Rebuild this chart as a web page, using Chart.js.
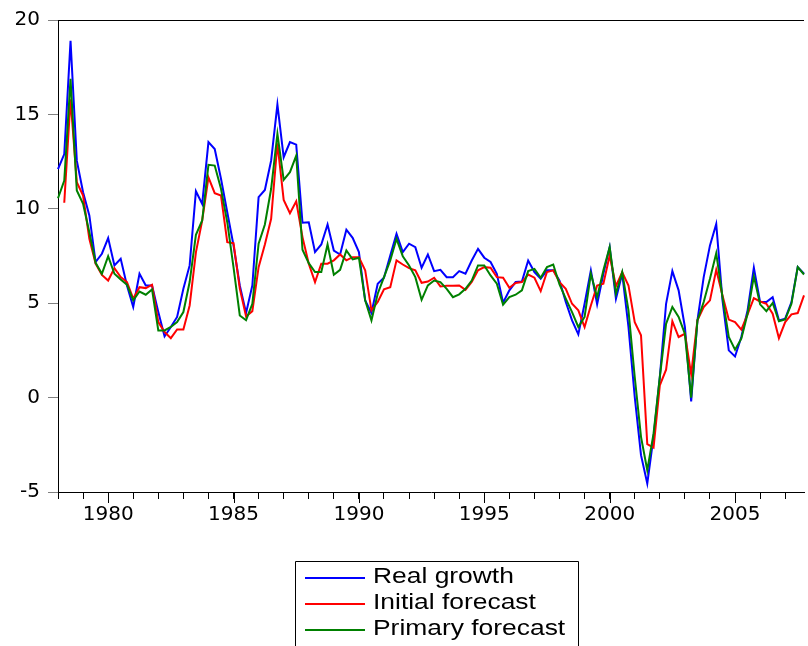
<!DOCTYPE html>
<html>
<head>
<meta charset="utf-8">
<script src="https://cdn.jsdelivr.net/npm/chart.js@4/dist/chart.umd.min.js"></script>
<style>
  body { margin: 0; background: #fff; }
  #wrap { width: 808px; height: 646px; }
</style>
</head>
<body>
<div id="wrap"><canvas id="growthChart"></canvas></div>
<script>
// quarters from 1978Q1
const quarters = [];
for (let y = 1978; y <= 2007; y++) {
    for (let q = 1; q <= 4; q++) quarters.push(y + 'Q' + q);
}

const realGrowth = [
    12.1, 12.9, 18.9, 12.55, 10.88, 9.65, 7.18, 7.62, 8.45, 7.0,
    7.35, 5.94, 4.8, 6.56, 5.94, 5.94, 4.53, 3.24, 3.74, 4.27,
    5.77, 7.0, 10.93, 10.26, 13.53, 13.17, 11.59, 9.82, 8.06, 5.94,
    4.48, 5.94, 10.62, 11.0, 12.56, 15.52, 12.73, 13.53, 13.4, 9.26,
    9.29, 7.71, 8.11, 9.17, 7.79, 7.58, 8.89, 8.46, 7.71, 5.15,
    4.48, 6.03, 6.35, 7.53, 8.67, 7.71, 8.15, 7.97, 6.88, 7.58,
    6.7, 6.77, 6.38, 6.38, 6.7, 6.56, 7.26, 7.88, 7.41, 7.18,
    6.56, 5.02, 5.68, 6.12, 6.15, 7.26, 6.65, 6.3, 6.74, 6.74,
    6.2, 5.06, 4.09, 3.35, 4.97, 6.74, 4.94, 6.56, 7.97, 5.24,
    6.56, 3.74, 0.03, -3.05, -4.55, -2.08, 1.09, 4.97, 6.7, 5.68,
    3.74, -0.2, 4.09, 6.38, 8.06, 9.2, 5.15, 2.5, 2.18, 3.21,
    4.62, 6.88, 5.06, 5.06, 5.32, 4.09, 4.18, 5.06, 6.91, 6.56
];

const initialForecast = [
    null, 10.32, 15.8, 11.41, 10.7, 8.41, 7.09, 6.5, 6.2, 6.86,
    6.38, 6.12, 5.24, 5.85, 5.8, 5.98, 4.0, 3.47, 3.15, 3.61,
    3.61, 4.88, 7.69, 9.38, 11.67, 10.83, 10.7, 8.23, 8.18, 5.77,
    4.3, 4.58, 6.91, 8.11, 9.47, 13.47, 10.47, 9.77, 10.4, 8.5,
    7.09, 6.12, 7.09, 7.09, 7.27, 7.58, 7.27, 7.44, 7.44, 6.74,
    4.62, 5.06, 5.73, 5.85, 7.27, 7.05, 6.86, 6.74, 6.08, 6.15,
    6.35, 5.89, 5.92, 5.92, 5.94, 5.71, 6.12, 6.74, 6.91, 6.88,
    6.38, 6.35, 5.82, 6.07, 6.12, 6.52, 6.35, 5.64, 6.65, 6.74,
    6.12, 5.76, 4.97, 4.62, 3.74, 4.88, 5.94, 6.03, 7.53, 5.9,
    6.65, 5.94, 4.0, 3.3, -2.47, -2.65, 0.65, 1.48, 4.05, 3.21,
    3.38, 1.23, 4.09, 4.8, 5.15, 6.77, 5.41, 4.13, 4.0, 3.6,
    4.41, 5.27, 5.09, 4.97, 4.44, 3.15, 4.0, 4.41, 4.48, 5.41
];

const primaryForecast = [
    10.56, 11.5, 16.88, 10.97, 10.26, 8.76, 7.14, 6.56, 7.49, 6.56,
    6.26, 5.98, 5.15, 5.62, 5.45, 5.73, 3.56, 3.56, 3.74, 4.0,
    4.53, 6.12, 8.62, 9.38, 12.33, 12.29, 11.06, 9.29, 6.9, 4.35,
    4.1, 4.97, 8.15, 9.17, 11.06, 13.97, 11.53, 11.94, 12.82, 7.83,
    7.12, 6.65, 6.65, 8.11, 6.51, 6.77, 7.79, 7.32, 7.41, 5.15,
    4.09, 5.5, 6.38, 7.27, 8.41, 7.49, 7.0, 6.38, 5.18, 5.94,
    6.2, 6.12, 5.76, 5.32, 5.47, 5.76, 6.2, 7.0, 7.0, 6.47,
    6.03, 4.92, 5.32, 5.45, 5.68, 6.7, 6.82, 6.35, 6.91, 7.05,
    5.99, 5.24, 4.53, 3.74, 4.27, 6.56, 5.32, 6.74, 7.97, 5.5,
    6.65, 4.62, 1.09, -2.08, -3.85, -1.91, 1.09, 3.91, 4.8, 4.27,
    3.38, 0.0, 4.09, 5.06, 6.29, 7.65, 5.32, 3.21, 2.54, 3.12,
    4.44, 6.42, 4.94, 4.58, 5.01, 4.04, 4.14, 4.97, 6.91, 6.52
];

const yTicks = [-5, 0, 5, 10, 15, 20];
const yearLabels = ['1980', '1985', '1990', '1995', '2000', '2005'];

const FONT = '"DejaVu Sans", sans-serif';

function isYearStart(i) {
    return quarters[i] && quarters[i].endsWith('Q1');
}
function yearLabelAt(i) {
    const yr = quarters[i].slice(0, 4);
    return isYearStart(i) && yearLabels.includes(yr) ? yr : '';
}

// top frame line, longer major ticks and the boxed legend
const framePlugin = {
    id: 'frame',
    afterDraw(chart) {
        const { ctx, chartArea, scales } = chart;
        const x = scales.x;
        ctx.save();
        ctx.strokeStyle = '#000';
        ctx.lineWidth = 1;
        ctx.beginPath();
        ctx.moveTo(chartArea.left, chartArea.top + 0.5);
        ctx.lineTo(chartArea.right, chartArea.top + 0.5);
        // extend major ticks
        x.ticks.forEach((t, i) => {
            if (yearLabelAt(i)) {
                const px = Math.round(x.getPixelForTick(i)) + 0.5;
                ctx.moveTo(px, chartArea.bottom);
                ctx.lineTo(px, chartArea.bottom + 11);
            }
        });
        ctx.stroke();

        // legend box
        const boxL = 295, boxR = 578, boxT = 561;
        ctx.beginPath();
        ctx.rect(boxL + 0.5, boxT + 0.5, boxR - boxL, 120);
        ctx.stroke();
        const rows = [578, 604, 630];
        chart.data.datasets.forEach((ds, k) => {
            ctx.strokeStyle = ds.borderColor;
            ctx.lineWidth = 2;
            ctx.beginPath();
            ctx.moveTo(305, rows[k]);
            ctx.lineTo(365, rows[k]);
            ctx.stroke();
            // text is a bit wide in the original, stretch it
            ctx.save();
            ctx.translate(373, rows[k] - 1);
            ctx.scale(1.2, 1);
            ctx.font = '22px "Liberation Sans", Arial, sans-serif';
            ctx.textBaseline = 'middle';
            ctx.fillStyle = '#000';
            ctx.fillText(ds.label, 0, 0);
            ctx.restore();
        });
        ctx.restore();
    }
};

const ctx = document.getElementById('growthChart').getContext('2d');
const growthChart = new Chart(ctx, {
    type: 'line',
    data: {
        labels: quarters,
        datasets: [
            {
                label: 'Real growth',
                data: realGrowth,
                borderColor: '#0000ff',
                order: 3
            },
            {
                label: 'Initial forecast',
                data: initialForecast,
                borderColor: '#ff0000',
                order: 2
            },
            {
                label: 'Primary forecast',
                data: primaryForecast,
                borderColor: '#008000',
                order: 1
            }
        ]
    },
    options: {
        responsive: true,
        maintainAspectRatio: false,
        animation: false,
        layout: {
            padding: { top: 19, right: 0, bottom: 0, left: 0 }
        },
        elements: {
            line: { borderWidth: 2, tension: 0 },
            point: { radius: 0, hoverRadius: 0 }
        },
        scales: {
            x: {
                type: 'category',
                offset: false,
                afterFit(scale) { scale.height = 154; },
                border: { color: '#000', width: 1 },
                grid: {
                    drawOnChartArea: false,
                    tickLength: 7,
                    tickColor: c => isYearStart(c.index) ? '#000' : 'rgba(0,0,0,0)'
                },
                ticks: {
                    autoSkip: false,
                    maxRotation: 0,
                    padding: 4,
                    color: '#000',
                    font: { family: FONT, size: 20 },
                    callback: (v, i) => yearLabelAt(i)
                }
            },
            y: {
                min: -5,
                max: 20,
                afterFit(scale) { scale.width = 58; },
                afterBuildTicks(scale) {
                    scale.ticks = yTicks.map(v => ({ value: v }));
                },
                border: { color: '#000', width: 1 },
                grid: {
                    drawOnChartArea: false,
                    tickLength: 10,
                    tickColor: '#808080'
                },
                ticks: {
                    padding: 8,
                    color: '#000',
                    font: { family: FONT, size: 20 }
                }
            }
        },
        plugins: {
            legend: { display: false },
            tooltip: { enabled: false }
        }
    },
    plugins: [framePlugin]
});
</script>
</body>
</html>
